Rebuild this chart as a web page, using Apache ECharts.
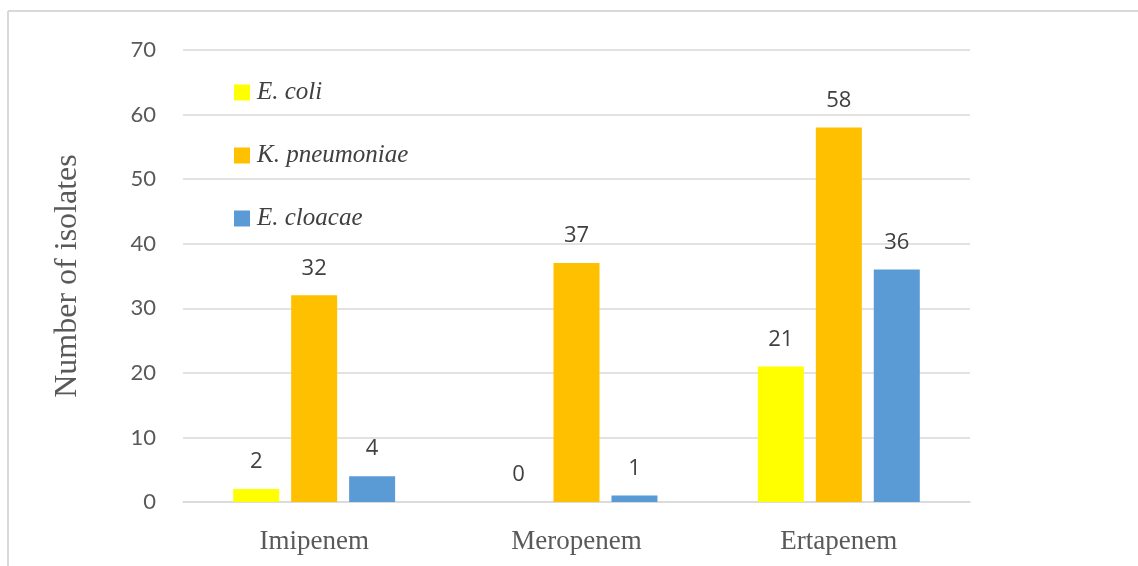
<!DOCTYPE html>
<html>
<head>
<meta charset="utf-8">
<script src="https://cdn.jsdelivr.net/npm/echarts@6/dist/echarts.min.js"></script>
<style>
  html, body { margin: 0; padding: 0; background: #fff; }
  #chart { width: 1138px; height: 566px; }
</style>
</head>
<body>
<div id="chart"></div>
<script>
// Carbapenem-resistant isolates per antibiotic and species
const categories = ['Imipenem', 'Meropenem', 'Ertapenem'];
const speciesNames = ['E. coli', 'K. pneumoniae', 'E. cloacae'];
const ecoli = [2, 0, 21];
const kpneumoniae = [32, 37, 58];
const ecloacae = [4, 1, 36];
const yTicks = [0, 10, 20, 30, 40, 50, 60, 70];

const colors = ['#FFFF00', '#FFC000', '#5B9BD5'];
const serif = '"Liberation Serif", "DejaVu Serif", serif';
const sans = '"Open Sans", "Noto Sans", sans-serif';

const seriesValues = [ecoli, kpneumoniae, ecloacae];

const chart = echarts.init(document.getElementById('chart'), null, { renderer: 'canvas' });

chart.setOption({
  backgroundColor: '#ffffff',
  animation: false,
  grid: { left: 183, right: 168, top: 50, bottom: 64, containLabel: false },
  legend: {
    orient: 'vertical',
    left: 229,
    top: 75,
    itemWidth: 16,
    itemHeight: 16,
    itemGap: 38,
    icon: 'rect',
    textStyle: { fontFamily: serif, fontStyle: 'italic', fontSize: 25, color: '#404040', padding: [0, 0, 0, 2] },
    data: speciesNames
  },
  xAxis: {
    type: 'category',
    data: categories,
    axisLine: { show: true, lineStyle: { color: '#d9d9d9', width: 1.5 } },
    axisTick: { show: false },
    axisLabel: { fontFamily: serif, fontSize: 27, color: '#595959', margin: 26 }
  },
  yAxis: {
    type: 'value',
    min: yTicks[0],
    max: yTicks[yTicks.length - 1],
    interval: 10,
    name: 'Number of isolates',
    nameLocation: 'middle',
    nameGap: 99,
    nameTextStyle: { fontFamily: serif, fontSize: 32, color: '#595959' },
    axisLine: { show: false },
    axisTick: { show: false },
    axisLabel: { fontFamily: '"Lato", sans-serif', fontSize: 22, color: '#595959', margin: 27 },
    splitLine: { lineStyle: { color: '#d9d9d9', width: 1.5 } }
  },
  series: speciesNames.map((name, i) => ({
    name: name,
    type: 'bar',
    data: seriesValues[i],
    barWidth: 46,
    barGap: '26%',
    itemStyle: { color: colors[i] },
    label: {
      show: true,
      position: 'top',
      distance: 16,
      fontFamily: sans,
      fontSize: 22,
      color: '#404040'
    }
  })),
  graphic: [
    { type: 'line', shape: { x1: 8, y1: 11, x2: 1138, y2: 11 }, style: { stroke: '#d9d9d9', lineWidth: 2 } },
    { type: 'line', shape: { x1: 8, y1: 11, x2: 8, y2: 566 }, style: { stroke: '#d9d9d9', lineWidth: 2 } }
  ]
});
</script>
</body>
</html>
